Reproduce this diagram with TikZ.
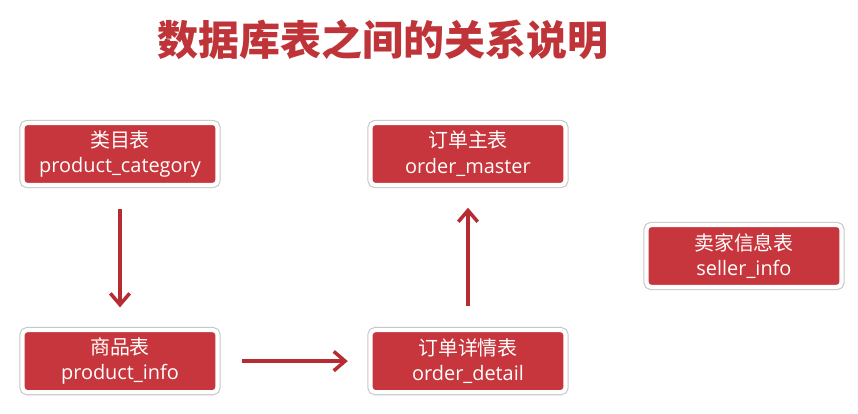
\documentclass[tikz,border=0pt]{standalone}
\usepackage{fontspec}
\setmainfont{Open Sans}
\newfontfamily\cjk{Noto Sans CJK SC}
\usepackage{tikz}
\usetikzlibrary{positioning, arrows.meta}
\definecolor{tablered}{RGB}{198, 54, 60}
\definecolor{titlered}{RGB}{190, 52, 56}
\definecolor{arrowred}{RGB}{182, 44, 50}

\begin{document}
\begin{tikzpicture}[
  font=\fontsize{17}{22}\selectfont,
  box/.style={rectangle, rounded corners=4pt, draw=white, line width=3.5pt, fill=tablered, text=white,
    minimum width=5.85cm, minimum height=1.86cm, align=center, inner sep=0pt,
    preaction={draw=black!22, line width=5.4pt}},
  link/.style={-{Straight Barb[length=3.4mm, width=5.8mm, line width=3pt]}, line width=2.8pt, arrowred,
    shorten <=0.66cm, shorten >=0.62cm},
]
  \useasboundingbox (0,0) rectangle (25.74,-12.42);

  % Title
  \node[font=\cjk\bfseries\fontsize{35}{40}\selectfont, text=titlered] (title) at (11.49,-1.2) {数据库表之间的关系说明};

  % Tables
  \node[box] (category) at (3.6,-4.62) {{\cjk 类目表}\\ product\_category};
  \node[box, below=4.23cm of category] (info) {{\cjk 商品表}\\ product\_info};
  \node[box] (master) at (14.04,-4.62) {{\cjk 订单主表}\\ order\_master};
  \node[box, below=4.23cm of master] (detail) {{\cjk 订单详情表}\\ order\_detail};
  \node[box] (seller) at (22.32,-7.68) {{\cjk 卖家信息表}\\ seller\_info};

  % Relations
  \draw[link] (category) -- (info);
  \draw[link] (info) -- (detail);
  \draw[link] (detail) -- (master);

\end{tikzpicture}
\end{document}
